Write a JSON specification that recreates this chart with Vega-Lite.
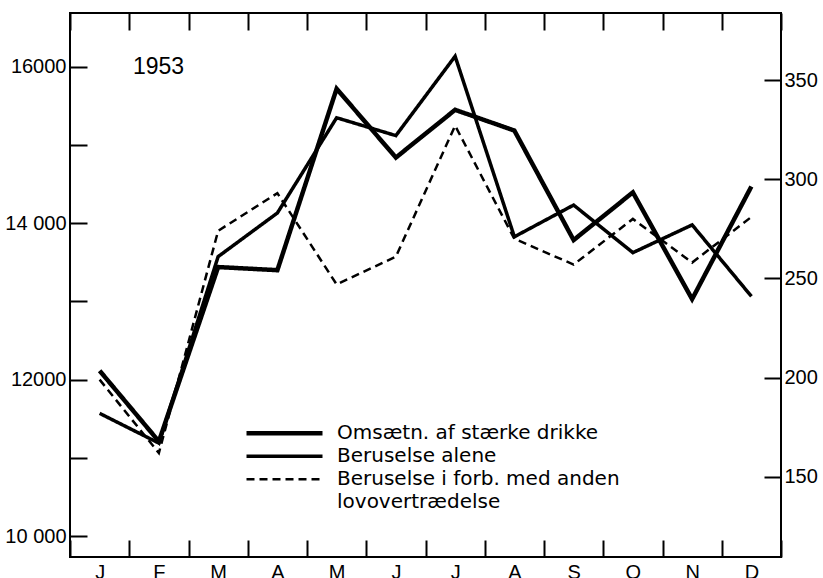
{
  "$schema": "https://vega.github.io/schema/vega-lite/v6.json",
  "width": 711,
  "height": 544,
  "autosize": "none",
  "padding": {"left": 70, "top": 13, "right": 42, "bottom": 21},
  "background": "white",
  "config": {
    "font": "Liberation Sans",
    "view": {"stroke": "black", "strokeWidth": 2},
    "axis": {
      "domain": false,
      "grid": false,
      "tickColor": "black",
      "tickWidth": 2,
      "tickSize": -17,
      "labelPadding": 21,
      "labelColor": "black",
      "labelFontSize": 20,
      "labelFont": "Liberation Sans",
      "title": null
    }
  },
  "title": {
    "text": "1953",
    "anchor": "start",
    "frame": "group",
    "fontSize": 23,
    "fontWeight": "normal",
    "color": "black",
    "font": "Liberation Sans",
    "baseline": "alphabetic",
    "offset": 0,
    "dx": 63,
    "dy": 85
  },
  "data": {
    "values": [
      {"maaned": 1, "serie": "Omsætn. af stærke drikke", "vaerdi": 12115},
      {"maaned": 2, "serie": "Omsætn. af stærke drikke", "vaerdi": 11210},
      {"maaned": 3, "serie": "Omsætn. af stærke drikke", "vaerdi": 13440},
      {"maaned": 4, "serie": "Omsætn. af stærke drikke", "vaerdi": 13400},
      {"maaned": 5, "serie": "Omsætn. af stærke drikke", "vaerdi": 15720},
      {"maaned": 6, "serie": "Omsætn. af stærke drikke", "vaerdi": 14840},
      {"maaned": 7, "serie": "Omsætn. af stærke drikke", "vaerdi": 15450},
      {"maaned": 8, "serie": "Omsætn. af stærke drikke", "vaerdi": 15185},
      {"maaned": 9, "serie": "Omsætn. af stærke drikke", "vaerdi": 13785},
      {"maaned": 10, "serie": "Omsætn. af stærke drikke", "vaerdi": 14395},
      {"maaned": 11, "serie": "Omsætn. af stærke drikke", "vaerdi": 13030},
      {"maaned": 12, "serie": "Omsætn. af stærke drikke", "vaerdi": 14470},
      {"maaned": 1, "serie": "Beruselse alene", "vaerdi": 182},
      {"maaned": 2, "serie": "Beruselse alene", "vaerdi": 167},
      {"maaned": 3, "serie": "Beruselse alene", "vaerdi": 261},
      {"maaned": 4, "serie": "Beruselse alene", "vaerdi": 283},
      {"maaned": 5, "serie": "Beruselse alene", "vaerdi": 331},
      {"maaned": 6, "serie": "Beruselse alene", "vaerdi": 322},
      {"maaned": 7, "serie": "Beruselse alene", "vaerdi": 362},
      {"maaned": 8, "serie": "Beruselse alene", "vaerdi": 271},
      {"maaned": 9, "serie": "Beruselse alene", "vaerdi": 287},
      {"maaned": 10, "serie": "Beruselse alene", "vaerdi": 263},
      {"maaned": 11, "serie": "Beruselse alene", "vaerdi": 277},
      {"maaned": 12, "serie": "Beruselse alene", "vaerdi": 241},
      {"maaned": 1, "serie": "Beruselse i forb. med anden", "vaerdi": 199},
      {"maaned": 2, "serie": "Beruselse i forb. med anden", "vaerdi": 162},
      {"maaned": 3, "serie": "Beruselse i forb. med anden", "vaerdi": 274},
      {"maaned": 4, "serie": "Beruselse i forb. med anden", "vaerdi": 293},
      {"maaned": 5, "serie": "Beruselse i forb. med anden", "vaerdi": 247},
      {"maaned": 6, "serie": "Beruselse i forb. med anden", "vaerdi": 261},
      {"maaned": 7, "serie": "Beruselse i forb. med anden", "vaerdi": 327},
      {"maaned": 8, "serie": "Beruselse i forb. med anden", "vaerdi": 270},
      {"maaned": 9, "serie": "Beruselse i forb. med anden", "vaerdi": 257},
      {"maaned": 10, "serie": "Beruselse i forb. med anden", "vaerdi": 280},
      {"maaned": 11, "serie": "Beruselse i forb. med anden", "vaerdi": 258},
      {"maaned": 12, "serie": "Beruselse i forb. med anden", "vaerdi": 281}
    ]
  },
  "layer": [
    {
      "transform": [{"filter": "datum.serie == 'Omsætn. af stærke drikke'"}],
      "mark": {"type": "line", "color": "black", "strokeJoin": "miter"},
      "encoding": {
        "x": {
          "field": "maaned",
          "type": "ordinal",
          "bandPosition": 0.5,
          "scale": {"type": "band", "paddingInner": 0, "paddingOuter": 0},
          "axis": {
            "orient": "bottom",
            "tickBand": "extent",
            "labelAngle": 0,
            "labelPadding": 22,
            "labelExpr": "['J','F','M','A','M','J','J','A','S','O','N','D'][datum.value - 1]"
          }
        },
        "y": {
          "field": "vaerdi",
          "type": "quantitative",
          "scale": {"domain": [9733, 16688], "nice": false, "zero": false},
          "axis": {
            "orient": "left",
            "values": [10000, 11000, 12000, 13000, 14000, 15000, 16000],
            "labelExpr": "datum.value == 16000 ? '16000' : datum.value == 14000 ? '14 000' : datum.value == 12000 ? '12000' : datum.value == 10000 ? '10 000' : ''"
          }
        },
        "strokeDash": {
          "field": "serie",
          "type": "nominal",
          "scale": {
            "domain": ["Omsætn. af stærke drikke", "Beruselse alene", "Beruselse i forb. med anden", "lovovertrædelse"],
            "range": [[1, 0], [1, 0], [8, 5], [0, 20]]
          },
          "legend": {
            "orient": "none",
            "legendX": 174,
            "legendY": 409,
            "title": null,
            "symbolType": "stroke",
            "symbolSize": 5776,
            "symbolStrokeColor": "black",
            "clipHeight": 22.5,
            "labelFontSize": 20,
            "labelFont": "DejaVu Sans",
            "labelColor": "black",
            "labelOffset": 12,
            "labelLimit": 500,
            "rowPadding": 0
          }
        },
        "strokeWidth": {
          "field": "serie",
          "type": "nominal",
          "scale": {
            "domain": ["Omsætn. af stærke drikke", "Beruselse alene", "Beruselse i forb. med anden", "lovovertrædelse"],
            "range": [4.5, 1.5, 1.5, 0]
          },
          "legend": {
            "orient": "none",
            "legendX": 174,
            "legendY": 409,
            "title": null,
            "symbolType": "stroke",
            "symbolSize": 5776,
            "symbolStrokeColor": "black",
            "clipHeight": 22.5,
            "labelFontSize": 20,
            "labelFont": "DejaVu Sans",
            "labelColor": "black",
            "labelOffset": 12,
            "labelLimit": 500,
            "rowPadding": 0
          }
        }
      }
    },
    {
      "transform": [{"filter": "datum.serie != 'Omsætn. af stærke drikke'"}],
      "mark": {"type": "line", "color": "black", "strokeJoin": "miter"},
      "encoding": {
        "x": {
          "field": "maaned",
          "type": "ordinal",
          "bandPosition": 0.5,
          "scale": {"type": "band", "paddingInner": 0, "paddingOuter": 0},
          "axis": {"orient": "top", "tickBand": "extent", "labels": false}
        },
        "y": {
          "field": "vaerdi",
          "type": "quantitative",
          "scale": {"domain": [109.6, 383.8], "nice": false, "zero": false},
          "axis": {"orient": "right", "values": [150, 200, 250, 300, 350], "labelPadding": 20}
        },
        "detail": {"field": "serie", "type": "nominal"},
        "strokeDash": {
          "field": "serie",
          "type": "nominal",
          "scale": {
            "domain": ["Omsætn. af stærke drikke", "Beruselse alene", "Beruselse i forb. med anden", "lovovertrædelse"],
            "range": [[1, 0], [1, 0], [8, 5], [0, 20]]
          }
        },
        "strokeWidth": {
          "field": "serie",
          "type": "nominal",
          "scale": {
            "domain": ["Omsætn. af stærke drikke", "Beruselse alene", "Beruselse i forb. med anden", "lovovertrædelse"],
            "range": [4.5, 1.5, 1.5, 0]
          }
        }
      }
    }
  ],
  "resolve": {
    "scale": {"y": "independent"},
    "axis": {"x": "independent", "y": "independent"}
  }
}
